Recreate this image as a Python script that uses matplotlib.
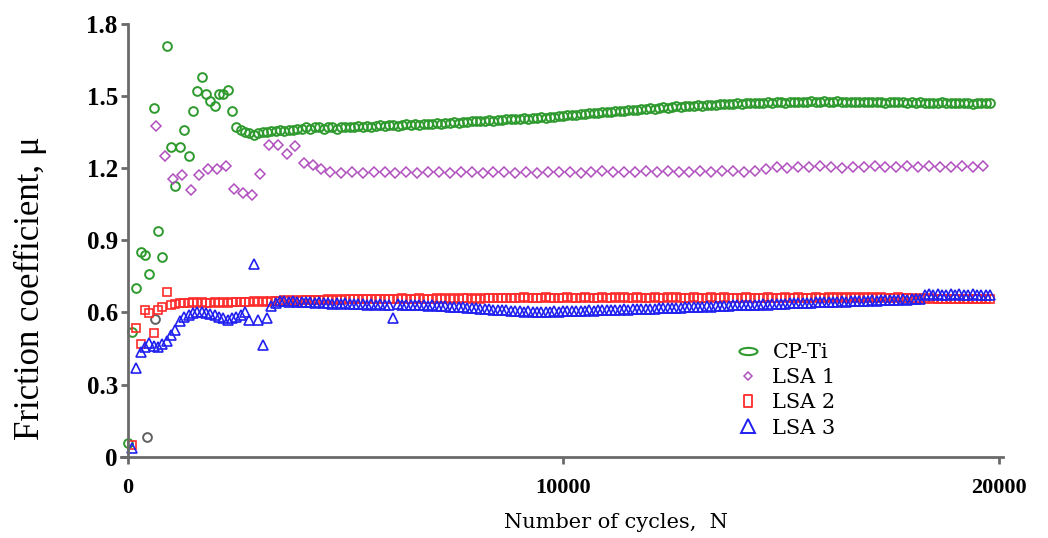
import numpy as np
import matplotlib
matplotlib.use("Agg")
import matplotlib.pyplot as plt
from matplotlib.path import Path
from matplotlib.transforms import Affine2D
from matplotlib.lines import Line2D

# ---- data: friction coefficient vs. number of cycles ----
cpti_cycles = np.arange(0, 19801, 100)
cpti_mu = [
    0.056, 0.52, 0.70, 0.85, 0.84, 0.76, 1.45, 0.94, 0.83, 1.71,
    1.29, 1.125, 1.29, 1.36, 1.25, 1.44, 1.52, 1.58, 1.51, 1.48,
    1.46, 1.51, 1.51, 1.525, 1.44, 1.37, 1.36, 1.35, 1.345, 1.34,
    1.345, 1.35, 1.35, 1.355, 1.355, 1.36, 1.355, 1.36, 1.36, 1.365,
    1.365, 1.37, 1.365, 1.37, 1.37, 1.365, 1.37, 1.37, 1.365, 1.37,
    1.37, 1.372, 1.37, 1.375, 1.372, 1.375, 1.37, 1.375, 1.378, 1.375,
    1.378, 1.38, 1.376, 1.38, 1.382, 1.38, 1.383, 1.38, 1.385, 1.383,
    1.385, 1.388, 1.386, 1.39, 1.388, 1.392, 1.39, 1.394, 1.392, 1.396,
    1.395, 1.398, 1.396, 1.40, 1.398, 1.402, 1.40, 1.404, 1.403, 1.406,
    1.405, 1.408, 1.406, 1.41, 1.408, 1.412, 1.41, 1.414, 1.413, 1.416,
    1.418, 1.42, 1.422, 1.42, 1.425, 1.424, 1.428, 1.43, 1.428, 1.432,
    1.434, 1.435, 1.438, 1.44, 1.438, 1.442, 1.444, 1.443, 1.446, 1.448,
    1.45, 1.448, 1.452, 1.454, 1.452, 1.456, 1.458, 1.456, 1.46, 1.458,
    1.46, 1.462, 1.46, 1.464, 1.465, 1.463, 1.466, 1.468, 1.466, 1.468,
    1.47, 1.468, 1.47, 1.472, 1.47, 1.473, 1.472, 1.474, 1.472, 1.474,
    1.475, 1.473, 1.476, 1.475, 1.477, 1.475, 1.476, 1.478, 1.476, 1.477,
    1.478, 1.476, 1.477, 1.478, 1.476, 1.477, 1.475, 1.477, 1.476, 1.475,
    1.476, 1.474, 1.476, 1.475, 1.473, 1.475, 1.474, 1.476, 1.474, 1.473,
    1.474, 1.472, 1.474, 1.473, 1.471, 1.473, 1.472, 1.474, 1.472, 1.471,
    1.472, 1.47, 1.472, 1.471, 1.469, 1.471, 1.47, 1.472, 1.47,
]

# two stray readings recorded during run-in
stray_cycles = [450, 620]
stray_mu = [0.083, 0.574]

lsa1_cycles = np.concatenate([np.arange(650, 4651, 200), np.arange(4900, 19651, 250)])
lsa1_mu = [
    1.375, 1.25, 1.157, 1.171, 1.108, 1.171, 1.197, 1.197, 1.211, 1.115,
    1.097, 1.09, 1.177, 1.296, 1.296, 1.261, 1.292, 1.222, 1.215, 1.195,
    1.183,
    1.182, 1.185, 1.18, 1.183, 1.186, 1.182, 1.184, 1.18, 1.185, 1.183,
    1.181, 1.186, 1.183, 1.18, 1.184, 1.186, 1.182, 1.184, 1.181, 1.185,
    1.183, 1.186, 1.182, 1.185, 1.188, 1.184, 1.186, 1.183, 1.187, 1.185,
    1.188, 1.184, 1.186, 1.189, 1.185, 1.187, 1.19, 1.186, 1.19, 1.195,
    1.205, 1.203, 1.207, 1.204, 1.208, 1.205, 1.203, 1.207, 1.205, 1.209,
    1.206, 1.204, 1.208, 1.206, 1.21, 1.207, 1.205, 1.209, 1.207, 1.21,
]

lsa2_cycles = np.arange(100, 19801, 100)
lsa2_mu = [
    0.05, 0.535, 0.47, 0.61, 0.598, 0.514, 0.611, 0.622, 0.686,
    0.630, 0.636, 0.638, 0.64, 0.638, 0.642, 0.64, 0.643, 0.641, 0.64,
    0.642, 0.64, 0.643, 0.641, 0.644, 0.642, 0.645, 0.643, 0.644, 0.646,
    0.645, 0.647, 0.645, 0.648, 0.646, 0.648, 0.65, 0.648, 0.65, 0.649,
    0.65, 0.652, 0.65, 0.653, 0.651, 0.652, 0.654, 0.652, 0.655, 0.653,
    0.654, 0.656, 0.654, 0.657, 0.655, 0.656, 0.658, 0.656, 0.657, 0.655,
    0.657, 0.658, 0.656, 0.659, 0.657, 0.658, 0.656, 0.659, 0.658, 0.657,
    0.658, 0.66, 0.657, 0.659, 0.658, 0.66, 0.657, 0.659, 0.661, 0.658,
    0.66, 0.658, 0.661, 0.659, 0.66, 0.662, 0.659, 0.661, 0.66, 0.662,
    0.66, 0.663, 0.661, 0.66, 0.662, 0.66, 0.663, 0.661, 0.66, 0.662,
    0.661, 0.663, 0.66, 0.662, 0.661, 0.664, 0.661, 0.662, 0.66, 0.663,
    0.661, 0.662, 0.664, 0.661, 0.663, 0.66, 0.662, 0.664, 0.661, 0.662,
    0.66, 0.663, 0.661, 0.662, 0.664, 0.661, 0.663, 0.66, 0.662, 0.661,
    0.663, 0.661, 0.662, 0.66, 0.663, 0.661, 0.662, 0.664, 0.661, 0.66,
    0.662, 0.66, 0.663, 0.661, 0.662, 0.66, 0.661, 0.663, 0.66, 0.662,
    0.661, 0.663, 0.66, 0.662, 0.664, 0.661, 0.662, 0.66, 0.663, 0.661,
    0.662, 0.664, 0.661, 0.663, 0.662, 0.665, 0.662, 0.664, 0.661, 0.663,
    0.662, 0.664, 0.661, 0.663, 0.66, 0.662, 0.661, 0.663, 0.66, 0.661,
    0.66, 0.658, 0.66, 0.657, 0.659, 0.656, 0.658, 0.655, 0.657, 0.656,
    0.655, 0.657, 0.654, 0.656, 0.655, 0.654, 0.656, 0.655, 0.654,
]

lsa3_cycles = np.arange(100, 19801, 100)
lsa3_mu = [
    0.0375, 0.368, 0.4375, 0.458, 0.475, 0.461, 0.458, 0.47, 0.48,
    0.507, 0.528, 0.5625, 0.583, 0.59, 0.597, 0.60, 0.60, 0.598, 0.595,
    0.59, 0.58, 0.575, 0.57, 0.575, 0.58, 0.59, 0.604, 0.57, 0.80,
    0.567, 0.465, 0.577, 0.625, 0.64, 0.646, 0.648, 0.645, 0.647, 0.644,
    0.645, 0.642, 0.644, 0.64, 0.642, 0.638, 0.64, 0.637, 0.639, 0.636,
    0.638, 0.635, 0.637, 0.634, 0.636, 0.633, 0.635, 0.632, 0.634, 0.633,
    0.632, 0.577, 0.634, 0.631, 0.633, 0.63, 0.632, 0.629, 0.631, 0.628,
    0.63, 0.627, 0.625, 0.627, 0.624, 0.622, 0.624, 0.621, 0.619, 0.62,
    0.617, 0.615, 0.616, 0.613, 0.611, 0.612, 0.609, 0.61, 0.607, 0.608,
    0.606, 0.604, 0.605, 0.603, 0.604, 0.602, 0.604, 0.603, 0.605, 0.604,
    0.606, 0.605, 0.607, 0.606, 0.608, 0.607, 0.609, 0.608, 0.61, 0.609,
    0.611, 0.61, 0.612, 0.611, 0.613, 0.612, 0.614, 0.613, 0.615, 0.614,
    0.616, 0.615, 0.617, 0.618, 0.617, 0.619, 0.62, 0.619, 0.621, 0.622,
    0.623, 0.622, 0.624, 0.625, 0.624, 0.626, 0.627, 0.626, 0.628, 0.629,
    0.63, 0.629, 0.631, 0.632, 0.631, 0.633, 0.634, 0.633, 0.635, 0.636,
    0.637, 0.636, 0.638, 0.639, 0.638, 0.64, 0.641, 0.64, 0.642, 0.643,
    0.643, 0.644, 0.643, 0.645, 0.646, 0.645, 0.647, 0.646, 0.648, 0.649,
    0.649, 0.65, 0.649, 0.651, 0.652, 0.651, 0.653, 0.652, 0.654, 0.653,
    0.655, 0.654, 0.656, 0.672, 0.675, 0.673, 0.676, 0.674, 0.672, 0.675,
    0.673, 0.676, 0.674, 0.672, 0.675, 0.673, 0.671, 0.674, 0.672,
]

series_labels = ["CP-Ti", "LSA 1", "LSA 2", "LSA 3"]
y_ticks = [0, 0.3, 0.6, 0.9, 1.2, 1.5, 1.8]
y_tick_labels = ["0", "0.3", "0.6", "0.9", "1.2", "1.5", "1.8"]
x_ticks = [0, 10000, 20000]
x_tick_labels = ["0", "10000", "20000"]

# ---- styling ----
GREEN = "#2e9a2e"
PURPLE = "#b050bd"
RED = "#ff2b2b"
BLUE = "#2020f0"
GRAY = "#606060"
AXIS = "#6a6a6a"

W, H = 1048, 538
fig = plt.figure(figsize=(W / 100, H / 100), dpi=100)
# axes box in pixel units: x from -150 to 20100 cycles, y from 0 to 1.8
left_px, right_px = 121.0, 1003.0
bottom_px, top_px = 456.7, 24.0
ax = fig.add_axes([left_px / W, 1 - bottom_px / H,
                   (right_px - left_px) / W, (bottom_px - top_px) / H])
ax.set_xlim(-150, 20100)
ax.set_ylim(0, 1.8)

common = dict(linestyle="none", markerfacecolor="none", clip_on=False)
ax.plot(cpti_cycles, cpti_mu, marker="o", markersize=6.3,
        markeredgewidth=1.4, markeredgecolor=GREEN, **common)
ax.plot(stray_cycles, stray_mu, marker="o", markersize=6.3,
        markeredgewidth=1.4, markeredgecolor=GRAY, **common)
ax.plot(lsa1_cycles, lsa1_mu, marker="D", markersize=5.2,
        markeredgewidth=1.1, markeredgecolor=PURPLE, **common)
ax.plot(lsa2_cycles, lsa2_mu, marker="s", markersize=5.6,
        markeredgewidth=1.2, markeredgecolor=RED, **common)
ax.plot(lsa3_cycles, lsa3_mu, marker="^", markersize=6.6,
        markeredgewidth=1.2, markeredgecolor=BLUE, **common)

# spines
for s in ("top", "right"):
    ax.spines[s].set_visible(False)
ax.spines["left"].set_position(("data", 0))
for s in ("left", "bottom"):
    ax.spines[s].set_color(AXIS)
    ax.spines[s].set_linewidth(2.0)

ax.set_yticks(y_ticks)
ax.set_yticklabels(y_tick_labels)
ax.set_xticks(x_ticks)
ax.set_xticklabels(x_tick_labels)
ax.tick_params(axis="y", direction="out", length=5, width=2, color=AXIS, pad=2)
ax.tick_params(axis="x", direction="out", length=5, width=2, color=AXIS, pad=10)
for lab in ax.get_yticklabels():
    lab.set_fontfamily("Liberation Serif")
    lab.set_fontweight("bold")
    lab.set_fontsize(18)
for lab in ax.get_xticklabels():
    lab.set_fontfamily("Liberation Serif")
    lab.set_fontweight("bold")
    lab.set_fontsize(16)

fig.text(30 / W, 1 - 288 / H, "Friction coefficient, \u03bc", rotation=90,
         ha="center", va="center", fontsize=25, family="Liberation Serif")
fig.text(616 / W, 1 - 523 / H, "Number of cycles,  N", ha="center",
         va="center", fontsize=15, family="DejaVu Serif")

# legend with its own marker shapes
ellipse = Path.unit_circle().transformed(Affine2D().scale(1.0, 0.4))
tall_rect = Path.unit_rectangle().transformed(
    Affine2D().translate(-0.5, -0.5).scale(0.7, 1.0))
handles = [
    Line2D([], [], linestyle="none", marker=ellipse, markersize=13,
           markerfacecolor="none", markeredgecolor=GREEN, markeredgewidth=1.5),
    Line2D([], [], linestyle="none", marker="D", markersize=4.5,
           markerfacecolor="none", markeredgecolor=PURPLE, markeredgewidth=1.1),
    Line2D([], [], linestyle="none", marker=tall_rect, markersize=9,
           markerfacecolor="none", markeredgecolor=RED, markeredgewidth=1.3),
    Line2D([], [], linestyle="none", marker="^", markersize=10,
           markerfacecolor="none", markeredgecolor=BLUE, markeredgewidth=1.4),
]
leg = ax.legend(handles, series_labels, loc="upper left",
                bbox_to_anchor=((735 - left_px) / (right_px - left_px),
                                1 - (343 - top_px) / (bottom_px - top_px)),
                frameon=False, handlelength=1.2, handletextpad=0.6,
                labelspacing=0.3, borderpad=0.0, borderaxespad=0.0,
                prop={"family": "DejaVu Serif", "size": 15})

fig.savefig("out.png", dpi=100)
